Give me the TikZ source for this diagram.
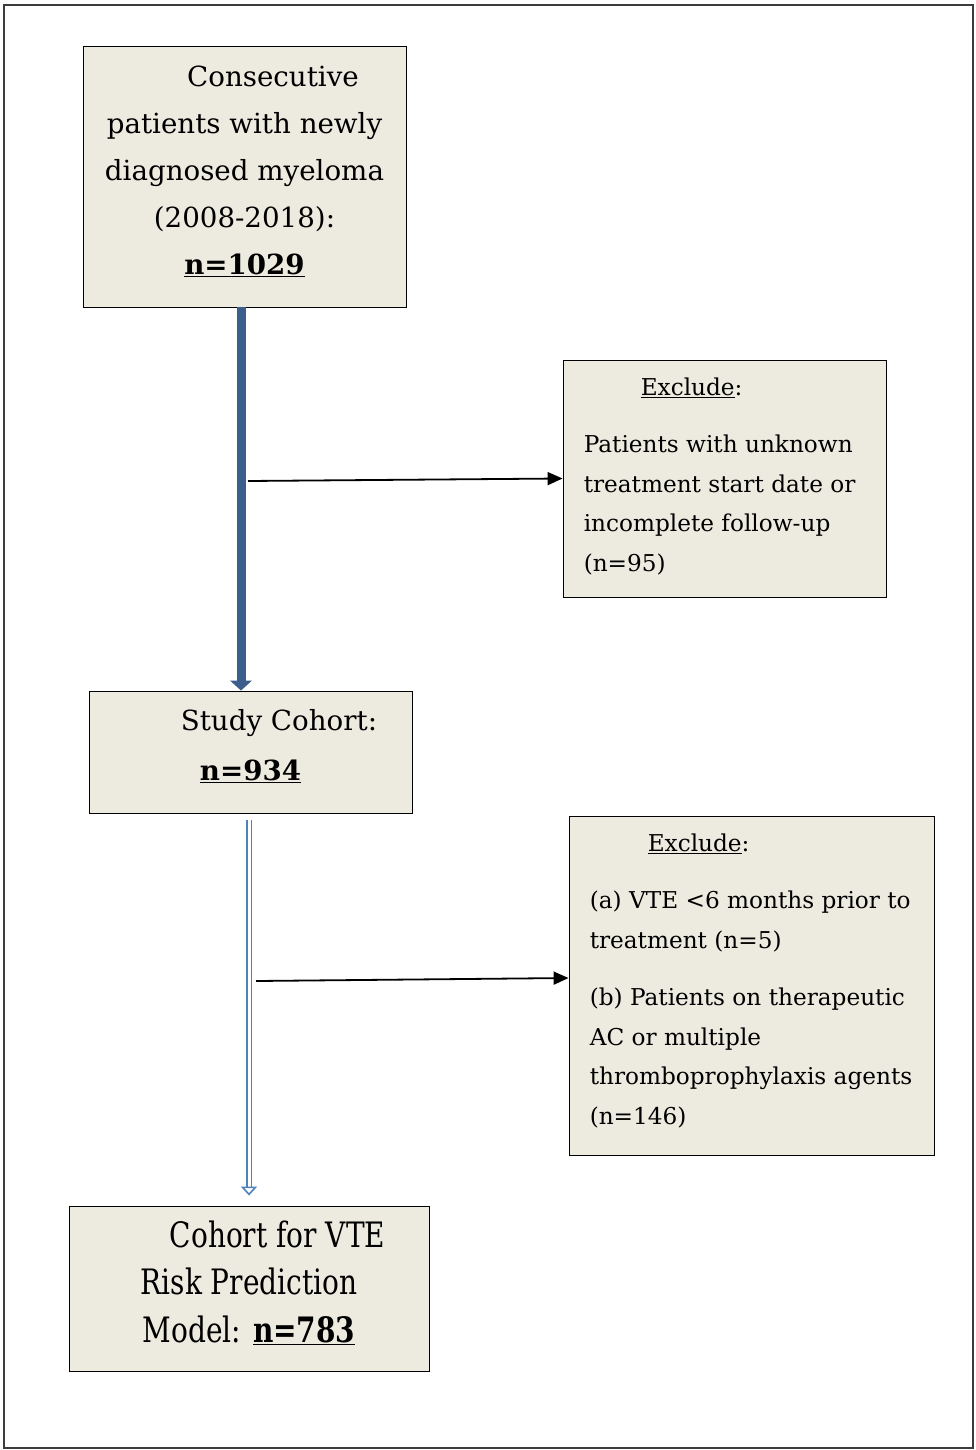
\documentclass[tikz,border=0pt]{standalone}
\usepackage{fontspec}
\setmainfont{DejaVu Serif}
\newfontfamily\narrowSerif[FakeStretch=0.8]{DejaVu Serif}
\usetikzlibrary{positioning,calc}
\usetikzlibrary{arrows.meta,arrows}
\definecolor{boxFill}{RGB}{237,235,224}
\definecolor{flowBlue}{RGB}{59,94,140}
\definecolor{hollowBlue}{RGB}{79,129,189}
\definecolor{frameGray}{RGB}{60,60,60}
\tikzset{%
  % Specifications for style of nodes:
    >={Triangle[width=13pt,length=15pt]},
    baseBox/.style = {rectangle,draw=black,line width=0.9pt,fill=boxFill,inner sep=0pt},
    cohortText/.style = {inner sep=0pt,align=center,font=\fontsize{27.7}{47}\selectfont},
    modelText/.style = {inner sep=0pt,align=center,font=\narrowSerif\fontsize{35}{47.5}\selectfont},
    excludeText/.style = {inner sep=0pt,align=left,font=\fontsize{23.2}{39.5}\selectfont},
    mainFlow/.style = {draw=flowBlue,line width=9pt,-{Triangle[width=22pt,length=10pt,line width=0pt]}},
    hollowFlow/.style = {draw=hollowBlue,line width=1.6pt,double=white,double distance=3pt,-{Triangle[open,width=16pt,length=9pt]}},
    excludeFlow/.style = {draw=black,line width=1.8pt,->},
}
\begin{document}
\begin{tikzpicture}[x=1pt,y=-1pt]
	\useasboundingbox (0,0) rectangle (975,1450);
	\draw[frameGray, line width=1.3pt] (4,5) rectangle (973,1448);

	% boxes
	\node [baseBox, minimum width=323pt, minimum height=261pt] (consec) at (244.5,176.5) {};
	\node [baseBox, minimum width=323pt, minimum height=122pt] (study) at (250.5,752) {};
	\node [baseBox, minimum width=360pt, minimum height=165pt] (model) at (249,1288.5) {};
	\node [baseBox, minimum width=323pt, minimum height=237pt] (excl1) at (724.5,478.5) {};
	\node [baseBox, minimum width=365pt, minimum height=339pt] (excl2) at (751.5,985.5) {};

	% texts
	\node [cohortText, below=20pt of consec.north] (consecText)
		{\hspace*{57pt}Consecutive\\ patients with newly\\ diagnosed myeloma\\ (2008-2018):\\ \textbf{\underline{n=1029}}};
	\node [cohortText, below=19pt of study.north] (studyText)
		{\hspace*{57pt}Study Cohort:\\[3pt] \textbf{\underline{n=934}}};
	\node [modelText, below=15pt of model.north] (modelText)
		{\hspace*{57pt}Cohort for VTE\\ Risk Prediction\\ Model: \textbf{\underline{n=783}}};
	\node [excludeText, below right=18pt and 21pt of excl1.north west] (excl1Text)
		{\hspace*{57pt}\underline{Exclude}:\\[18pt] Patients with unknown\\ treatment start date or\\ incomplete follow-up\\ (n=95)};
	\node [excludeText, below right=18pt and 21pt of excl2.north west] (excl2Text)
		{\hspace*{58pt}\underline{Exclude}:\\[18pt] (a) VTE <6 months prior to\\ treatment (n=5)\\[18pt] (b) Patients on therapeutic\\ AC or multiple\\ thromboprophylaxis agents\\ (n=146)};

	% flow
	\draw[mainFlow] ([xshift=-3.5pt]consec.south) -- ([xshift=-3.5pt]consec.south |- study.north);
	\draw[hollowFlow] ([yshift=-7pt,xshift=-1.5pt]study.south) -- ([yshift=10pt,xshift=-1.5pt]study.south |- model.north);

	\coordinate (split1) at (248,481);
	\coordinate (split2) at (256,981);
	\draw[excludeFlow] (split1) -- (excl1.west);
	\draw[excludeFlow] (split2) -- (excl2.west |- 0,978);
\end{tikzpicture}
\end{document}
